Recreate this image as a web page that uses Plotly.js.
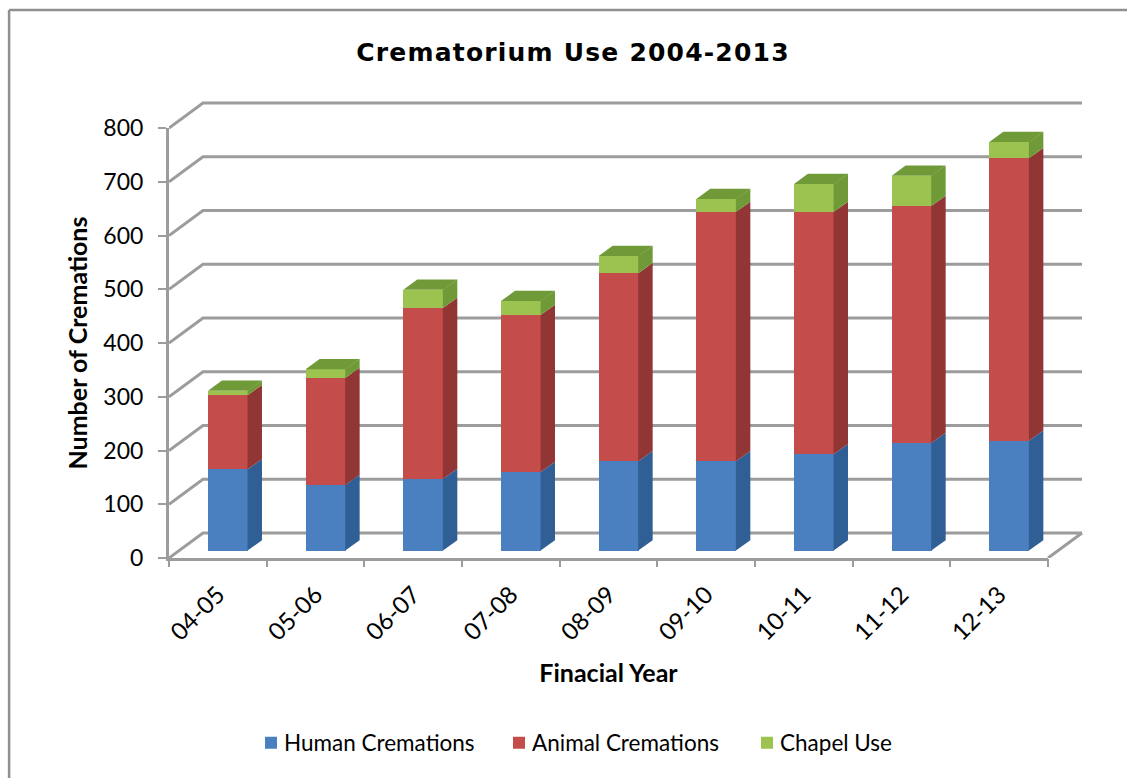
<!DOCTYPE html>
<html>
<head>
<meta charset="utf-8">
<script src="https://cdn.plot.ly/plotly-3.0.1.min.js"></script>
<style>
html,body{margin:0;padding:0;background:#fff}
#chart .gtitle{letter-spacing:1.2px}
</style>
</head>
<body>
<div id="chart" style="width:1127px;height:778px"></div>
<script>
const years = ["04-05","05-06","06-07","07-08","08-09","09-10","10-11","11-12","12-13"];
const humanCremations  = [151,122,133,146,166,166,179,200,204];
const animalCremations = [138,199,318,292,350,464,451,441,526];
const chapelUse        = [8,16,34,26,32,24,52,56,30];
const valueTicks = [0,100,200,300,400,500,600,700,800];

const W = 1127, H = 778;
// Pixel frame: the front plane of the box, the far corner reached by its depth,
// and a small pad so the outermost wall lines keep their full width.
const plotLeft = 168.5, frontRight = 1048, backRight = 1082, pad = 4;
const backTop = 103, frontTop = 128, plotBottom = 557.7;
const frameW = backRight + pad - plotLeft, frameH = plotBottom - backTop + pad;
const frontW = frontRight - plotLeft, frontH = plotBottom - frontTop;

// Data ranges of the full frame, and the size of one depth step in data units.
const fullX = years.length * frameW / frontW, fullY = 800 * frameH / frontH;
const depthX = years.length * (backRight - frontRight) / frontW;
const depthY = 800 * (frontTop - backTop) / frontH;
const barFront = 0.30, barBack = 0.71, barWidth = 0.41, seam = 0.005;
const wallColor = "#9c9c9c";
const font = "Lato, 'Open Sans', sans-serif";

const series = [
  {name:"Human Cremations",  values:humanCremations,  front:"#4a7fc0", side:"#2f5f94"},
  {name:"Animal Cremations", values:animalCremations, front:"#c44c4a", side:"#913535"},
  {name:"Chapel Use",        values:chapelUse,        front:"#9cc250", side:"#709a38"}
];

// Back wall, left wall and the floor's right edge.
const wallX = [], wallY = [];
valueTicks.forEach(v => {
  wallX.push(0, depthX, years.length + depthX, null);
  wallY.push(v, v + depthY, v + depthY, null);
});
wallX.push(years.length, years.length + depthX);
wallY.push(0, depthY);

const traces = [
  {type:"scatter", mode:"lines", x:[0, years.length], y:[0, 0], xaxis:"x", yaxis:"y",
   line:{color:wallColor, width:0}, showlegend:false, hoverinfo:"skip"},
  {type:"scatter", mode:"lines", x:wallX, y:wallY, xaxis:"x2", yaxis:"y2",
   line:{color:wallColor, width:3}, showlegend:false, hoverinfo:"skip"}
];

const faceShift = barFront * depthY;
const running = years.map(() => 0);
const faces = [];

series.forEach((s, k) => {
  traces.push({
    type:"bar", name:s.name, x:years.map((_, i) => i + 0.5 + barFront * depthX),
    y:s.values, base:running.map(b => b + faceShift), width:barWidth,
    marker:{color:s.front, line:{width:0}}, xaxis:"x3", yaxis:"y3", hoverinfo:"skip"
  });
  // Right-hand face of each segment, plus the top cap on the last series.
  const sx = [], sy = [], tx = [], ty = [];
  const span = barBack - barFront;
  years.forEach((_, i) => {
    const x1 = i + 0.5 + barFront * depthX + barWidth / 2;
    const x2 = x1 + span * depthX;
    const lo = running[i] + faceShift, hi = lo + s.values[i];
    sx.push(x1 - seam, x2, x2, x1 - seam, x1 - seam, null);
    sy.push(lo, lo + span * depthY, hi + span * depthY, hi, lo, null);
    if (k === series.length - 1) {
      const x0 = x1 - barWidth;
      tx.push(x0, x1, x2, x2 - barWidth, x0, null);
      ty.push(hi, hi, hi + span * depthY, hi + span * depthY, hi, null);
    }
    running[i] += s.values[i];
  });
  const face = (x, y) => ({
    type:"scatter", mode:"lines", x, y, fill:"toself", fillcolor:s.side,
    line:{width:0, color:s.side}, xaxis:"x3", yaxis:"y3", showlegend:false, hoverinfo:"skip"
  });
  faces.push(face(sx, sy));
  if (tx.length) faces.push(face(tx, ty));
});
traces.push(...faces);

const paperX = px => (px - plotLeft) / frameW;
const paperY = px => (plotBottom - px) / frameH;
const frameLine = {type:"line", xref:"paper", yref:"paper", layer:"below", line:{color:"#8f8f8f", width:2.5}};

const layout = {
  width:W, height:H, paper_bgcolor:"#fff", plot_bgcolor:"rgba(0,0,0,0)",
  margin:{l:plotLeft, r:W - backRight - pad, t:backTop - pad, b:H - plotBottom, pad:0, autoexpand:false},
  barmode:"overlay", bargap:0,
  title:{text:"Crematorium Use 2004-2013", x:573/W, xanchor:"center", y:1-52/H, yanchor:"middle",
         font:{family:"'DejaVu Sans', sans-serif", size:25, color:"#000", weight:"bold"}},
  // Front plane: labels, titles, value axis, floor edge.
  xaxis:{domain:[0, frontW / frameW], anchor:"y", range:[0, years.length],
         tickvals:years.map((_, i) => i + 0.5), ticktext:years, tickangle:-45, ticks:"",
         ticklabelstandoff:10, tickfont:{family:font, size:24, color:"#000"},
         showgrid:false, zeroline:false, showline:true, linecolor:wallColor, linewidth:3,
         title:{text:"Finacial Year", standoff:20, font:{family:font, size:25, color:"#000", weight:"bold"}}},
  yaxis:{domain:[0, frontH / frameH], anchor:"x", range:[0, 800], tickvals:valueTicks,
         ticks:"outside", ticklen:8, tickwidth:2, tickcolor:wallColor, ticklabelstandoff:10,
         tickfont:{family:font, size:23, color:"#000"}, showgrid:false, zeroline:false,
         showline:true, linecolor:wallColor, linewidth:3,
         title:{text:"Number of Cremations", standoff:9, font:{family:font, size:25, color:"#000", weight:"bold"}}},
  // Whole box: walls and category ticks.
  xaxis2:{domain:[0, 1], anchor:"y2", range:[0, fullX], tickvals:years.map((_, i) => i).concat(years.length),
          showticklabels:false, ticks:"outside", ticklen:8, tickwidth:2, tickcolor:wallColor,
          showgrid:false, zeroline:false, showline:false},
  yaxis2:{domain:[0, 1], anchor:"x2", range:[0, fullY], visible:false},
  // Bars sit in an overlay so they cover the wall lines.
  xaxis3:{overlaying:"x2", anchor:"y3", range:[0, fullX], visible:false},
  yaxis3:{overlaying:"y2", anchor:"x3", range:[0, fullY], visible:false},
  legend:{orientation:"h", x:251/W, y:1-743/H, xref:"container", yref:"container", yanchor:"middle",
          entrywidth:203, entrywidthmode:"pixels", font:{family:font, size:22.5, color:"#000"},
          bgcolor:"rgba(0,0,0,0)"},
  shapes:[
    {...frameLine, x0:paperX(8.5), x1:paperX(8.5), y0:paperY(H), y1:paperY(10)},
    {...frameLine, x0:paperX(8.5), x1:paperX(W), y0:paperY(10), y1:paperY(10)}
  ]
};

Plotly.newPlot("chart", traces, layout, {displayModeBar:false, responsive:false}).then(() => {
  // Pull the legend text closer to its swatch and enlarge the swatch a little.
  document.querySelectorAll("#chart .legendtext").forEach(t => t.setAttribute("x", 33));
  document.querySelectorAll("#chart .legendbar").forEach(p => {
    p.style.stroke = p.style.fill;
    p.style.strokeWidth = "2px";
  });
});
</script>
</body>
</html>
